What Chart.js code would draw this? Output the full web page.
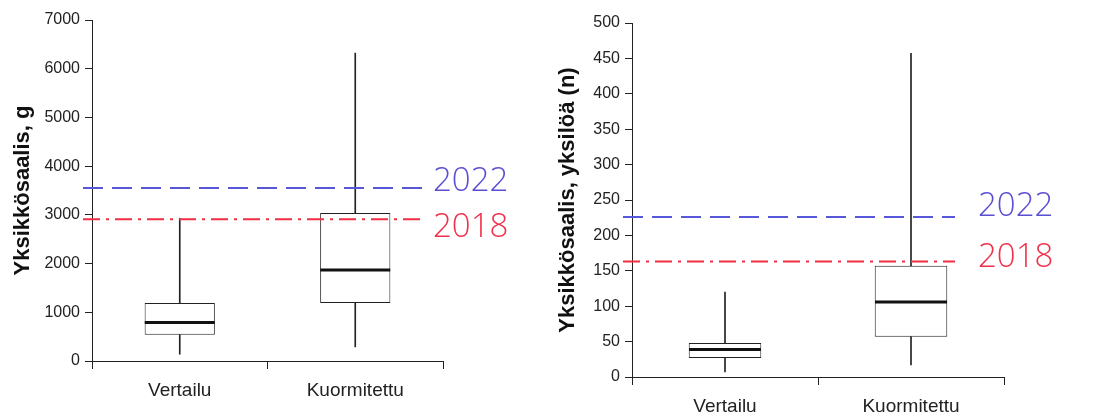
<!DOCTYPE html>
<html>
<head>
<meta charset="utf-8">
<script src="https://cdn.jsdelivr.net/npm/chart.js@4.4.0/dist/chart.umd.min.js"></script>
<style>
  body { margin: 0; background: #fff; }
  #wrap { display: flex; width: 1105px; height: 420px; }
  .panel { position: relative; height: 420px; }
</style>
</head>
<body>
<div id="wrap">
  <div class="panel" style="width:550px"><canvas id="weight"></canvas></div>
  <div class="panel" style="width:555px"><canvas id="count"></canvas></div>
</div>
<script>
// categories shared by both panels
const categories = ["Vertailu", "Kuormitettu"];

// Yksikkösaalis, g
const weightMin = [140, 290];
const weightQ1 = [540, 1190];
const weightMedian = [790, 1870];
const weightQ3 = [1190, 3040];
const weightMax = [2930, 6320];
const weightTicks = [0, 1000, 2000, 3000, 4000, 5000, 6000, 7000];
const weightRef = [3550, 2910];

// Yksikkösaalis, yksilöä (n)
const countMin = [7, 17];
const countQ1 = [27, 57];
const countMedian = [39, 106];
const countQ3 = [48, 157];
const countMax = [120, 457];
const countTicks = [0, 50, 100, 150, 200, 250, 300, 350, 400, 450, 500];
const countRef = [226, 163];

const refYears = ["2022", "2018"];
const refColors = ["#5757d9", "#ee2f42"];
const refTextColors = ["#5a4fd2", "#f0304c"];

const FONT = '"Liberation Sans", Arial, sans-serif';

// dashed reference lines with the hand-written year labels
const refLinesPlugin = {
    id: "refLines",
    afterDatasetsDraw(chart, args, opts) {
        const ctx = chart.ctx;
        const y = chart.scales.y;
        const area = chart.chartArea;
        opts.values.forEach((v, i) => {
            const py = y.getPixelForValue(v);
            ctx.save();
            ctx.strokeStyle = refColors[i];
            ctx.lineWidth = 2;
            ctx.setLineDash(i === 0 ? [20, 9] : [17, 6, 3, 6]);
            ctx.beginPath();
            ctx.moveTo(area.left + opts.start, py);
            ctx.lineTo(area.right + opts.end, py);
            ctx.stroke();
            ctx.setLineDash([]);
            ctx.fillStyle = refTextColors[i];
            ctx.font = "300 33px " + '"Open Sans", ' + FONT;
            ctx.textBaseline = "middle";
            ctx.textAlign = "left";
            ctx.fillText(refYears[i], area.right + opts.labelX, py + opts.labelDy[i]);
            ctx.restore();
        });
    }
};

function makeBoxChart(id, d, cfg) {
    const boxes = categories.map((c, i) => [d.q1[i], d.q3[i]]);
    const lower = categories.map((c, i) => [d.min[i], d.q1[i]]);
    const upper = categories.map((c, i) => [d.q3[i], d.max[i]]);

    const whisker = {
        type: "bar",
        grouped: false,
        order: 2,
        barThickness: 1,
        backgroundColor: "#222",
        borderWidth: 0
    };

    new Chart(document.getElementById(id), {
        type: "bar",
        data: {
            labels: categories,
            datasets: [
                Object.assign({ data: lower }, whisker),
                Object.assign({ data: upper }, whisker),
                {
                    type: "bar",
                    data: boxes,
                    grouped: false,
                    order: 1,
                    barPercentage: cfg.boxPct,
                    categoryPercentage: 1,
                    backgroundColor: "#fff",
                    borderColor: "#222",
                    borderWidth: 1,
                    borderSkipped: false
                },
                {
                    type: "line",
                    data: d.median,
                    order: 0,
                    showLine: false,
                    pointStyle: "line",
                    pointRadius: cfg.medianHalf,
                    pointBorderWidth: 3,
                    pointBorderColor: "#111",
                    borderColor: "#111"
                }
            ]
        },
        options: {
            responsive: true,
            maintainAspectRatio: false,
            animation: false,
            events: [],
            layout: { autoPadding: false, padding: { top: cfg.top, right: cfg.right, left: 0, bottom: 0 } },
            plugins: {
                legend: { display: false },
                tooltip: { enabled: false },
                refLines: cfg.ref
            },
            scales: {
                x: {
                    offset: true,
                    grid: { offset: true, drawOnChartArea: false, color: "#222", tickLength: 8 },
                    border: { color: "#222", width: 1 },
                    ticks: { color: "#222", font: { family: FONT, size: 19 }, padding: 10 },
                    afterFit(s) { s.height = cfg.xHeight; }
                },
                y: {
                    min: 0,
                    max: d.ticks[d.ticks.length - 1],
                    afterBuildTicks(s) { s.ticks = d.ticks.map(v => ({ value: v })); },
                    grid: { drawOnChartArea: false, color: "#222", tickLength: 7 },
                    border: { color: "#222", width: 1 },
                    ticks: {
                        color: "#222",
                        font: { family: FONT, size: 16 },
                        padding: 5,
                        callback: v => String(v)
                    },
                    title: {
                        display: true,
                        text: cfg.title,
                        color: "#111",
                        font: { family: FONT, size: 22, weight: "bold" },
                        padding: { top: cfg.titlePad, bottom: 0 }
                    },
                    afterFit(s) { s.width = cfg.yWidth; }
                }
            }
        },
        plugins: [refLinesPlugin]
    });
}

makeBoxChart("weight",
    { min: weightMin, q1: weightQ1, median: weightMedian, q3: weightQ3, max: weightMax, ticks: weightTicks },
    {
        title: "Yksikkösaalis, g", boxPct: 0.4, medianHalf: 35,
        top: 20, right: 107, xHeight: 59, yWidth: 92, titlePad: 10,
        ref: { values: weightRef, start: -9, end: -18, labelX: -10, labelDy: [-6, 8] }
    });

makeBoxChart("count",
    { min: countMin, q1: countQ1, median: countMedian, q3: countQ3, max: countMax, ticks: countTicks },
    {
        title: "Yksikkösaalis, yksilöä (n)", boxPct: 0.39, medianHalf: 36,
        top: 23, right: 101, xHeight: 43, yWidth: 82, titlePad: 5,
        ref: { values: countRef, start: -9, end: -49, labelX: -26, labelDy: [-10, -4] }
    });
</script>
</body>
</html>
